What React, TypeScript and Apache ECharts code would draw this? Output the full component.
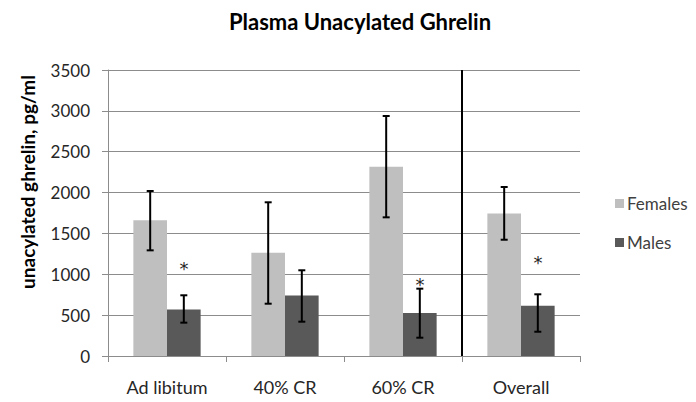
import React, { useEffect, useRef } from "react";
import * as echarts from "echarts";

const categories = ["Ad libitum", "40% CR", "60% CR", "Overall"];
const femaleMeans = [1660, 1265, 2317, 1745];
const femaleLow = [1293, 640, 1697, 1423];
const femaleHigh = [2019, 1881, 2937, 2068];
const maleMeans = [570, 740, 527, 616];
const maleLow = [408, 420, 224, 297];
const maleHigh = [743, 1049, 824, 755];
const asteriskValues = [1112, null, 909, 1175];
const yTicks = { min: 0, max: 3500, interval: 500 };
const dividerAt = 3;

const FONT = "Lato";
const BAR_FRAC = 0.285;

export default function App() {
  const ref = useRef<HTMLDivElement>(null);
  useEffect(() => {
    const chart = echarts.init(ref.current!, null, { renderer: "svg" });

    const errData = (low: number[], high: number[]) =>
      categories.map((_, i) => [i, low[i], high[i]]);

    const errRender = (side: number) => (params: any, api: any) => {
      const i = api.value(0);
      const lo = api.coord([i, api.value(1)]);
      const hi = api.coord([i, api.value(2)]);
      const band = api.size([1, 0])[0];
      const x = lo[0] + side * band * BAR_FRAC / 2;
      const cap = 3.5;
      const style = { stroke: "#000", lineWidth: 2 };
      return {
        type: "group",
        children: [
          { type: "line", shape: { x1: x, y1: hi[1], x2: x, y2: lo[1] }, style },
          { type: "line", shape: { x1: x - cap, y1: hi[1], x2: x + cap, y2: hi[1] }, style },
          { type: "line", shape: { x1: x - cap, y1: lo[1], x2: x + cap, y2: lo[1] }, style },
        ],
      };
    };

    const starData = categories.map((_, i) =>
      asteriskValues[i] == null ? [i, null] : [i, asteriskValues[i]]
    );

    chart.setOption({
      animation: false,
      textStyle: { fontFamily: FONT },
      title: {
        text: "Plasma Unacylated Ghrelin",
        left: 355,
        textAlign: "center",
        top: 5,
        textStyle: { fontFamily: FONT, fontWeight: "bold", fontSize: 22, color: "#000" },
      },
      legend: {
        orient: "vertical",
        left: 610,
        top: 190,
        itemWidth: 9,
        itemHeight: 9,
        itemGap: 22,
        icon: "rect",
        textStyle: { fontFamily: FONT, fontSize: 17, color: "#404040", padding: [0, 0, 0, -2] },
        data: ["Females", "Males"],
      },
      grid: { left: 108, right: 116, top: 70, bottom: 46 },
      xAxis: [
        {
          type: "category",
          data: categories,
          axisLine: { lineStyle: { color: "#8c8c8c", width: 1 } },
          axisTick: { show: true, length: 6, lineStyle: { color: "#8c8c8c" } },
          axisLabel: { fontFamily: FONT, fontSize: 18, color: "#262626", margin: 22 },
        },
        {
          type: "value",
          min: 0,
          max: 4,
          show: false,
          position: "bottom",
        },
      ],
      yAxis: {
        type: "value",
        min: yTicks.min,
        max: yTicks.max,
        interval: yTicks.interval,
        axisLine: { show: true, lineStyle: { color: "#8c8c8c" } },
        axisTick: { show: true, length: 6, lineStyle: { color: "#8c8c8c" } },
        axisLabel: {
          fontFamily: FONT,
          fontSize: 17,
          color: "#262626",
          margin: 18,
          formatter: (v: number) => String(v),
        },
        splitLine: { lineStyle: { color: "#8c8c8c", width: 1 } },
      },
      graphic: [
        {
          type: "text",
          x: 27,
          y: 182,
          rotation: Math.PI / 2,
          style: {
            text: "unacylated ghrelin, pg/ml",
            fontFamily: FONT,
            fontWeight: "bold",
            fontSize: 19,
            fill: "#000",
            align: "center",
            verticalAlign: "middle",
          },
        },
      ],
      series: [
        {
          name: "Females",
          type: "bar",
          data: femaleMeans,
          barWidth: `${BAR_FRAC * 100}%`,
          barGap: "0%",
          itemStyle: { color: "#bfbfbf" },
        },
        {
          name: "Males",
          type: "bar",
          data: maleMeans,
          barWidth: `${BAR_FRAC * 100}%`,
          barGap: "0%",
          itemStyle: { color: "#595959" },
        },
        {
          type: "custom",
          renderItem: errRender(-1),
          data: errData(femaleLow, femaleHigh),
          encode: { x: 0, y: [1, 2] },
          itemStyle: { color: "#000" },
          z: 10,
        },
        {
          type: "custom",
          renderItem: errRender(1),
          data: errData(maleLow, maleHigh),
          encode: { x: 0, y: [1, 2] },
          itemStyle: { color: "#000" },
          z: 10,
        },
        {
          type: "scatter",
          data: starData,
          symbolSize: 0.1,
          itemStyle: { color: "#262626", opacity: 0 },
          silent: true,
          z: 10,
          label: {
            show: true,
            position: "inside",
            offset: [17, 3],
            formatter: "*",
            fontFamily: "DejaVu Sans",
            fontSize: 18,
            color: "#262626",
            textBorderWidth: 0,
            textBorderColor: "transparent",
            opacity: 1,
          },
        },
        {
          type: "line",
          xAxisIndex: 1,
          data: [
            [dividerAt, yTicks.min],
            [dividerAt, yTicks.max],
          ],
          symbol: "none",
          lineStyle: { color: "#000", width: 2 },
          z: 5,
        },
      ],
    });
    return () => chart.dispose();
  }, []);
  return <div ref={ref} style={{ width: 696, height: 402, margin: -8 }} />;
}
